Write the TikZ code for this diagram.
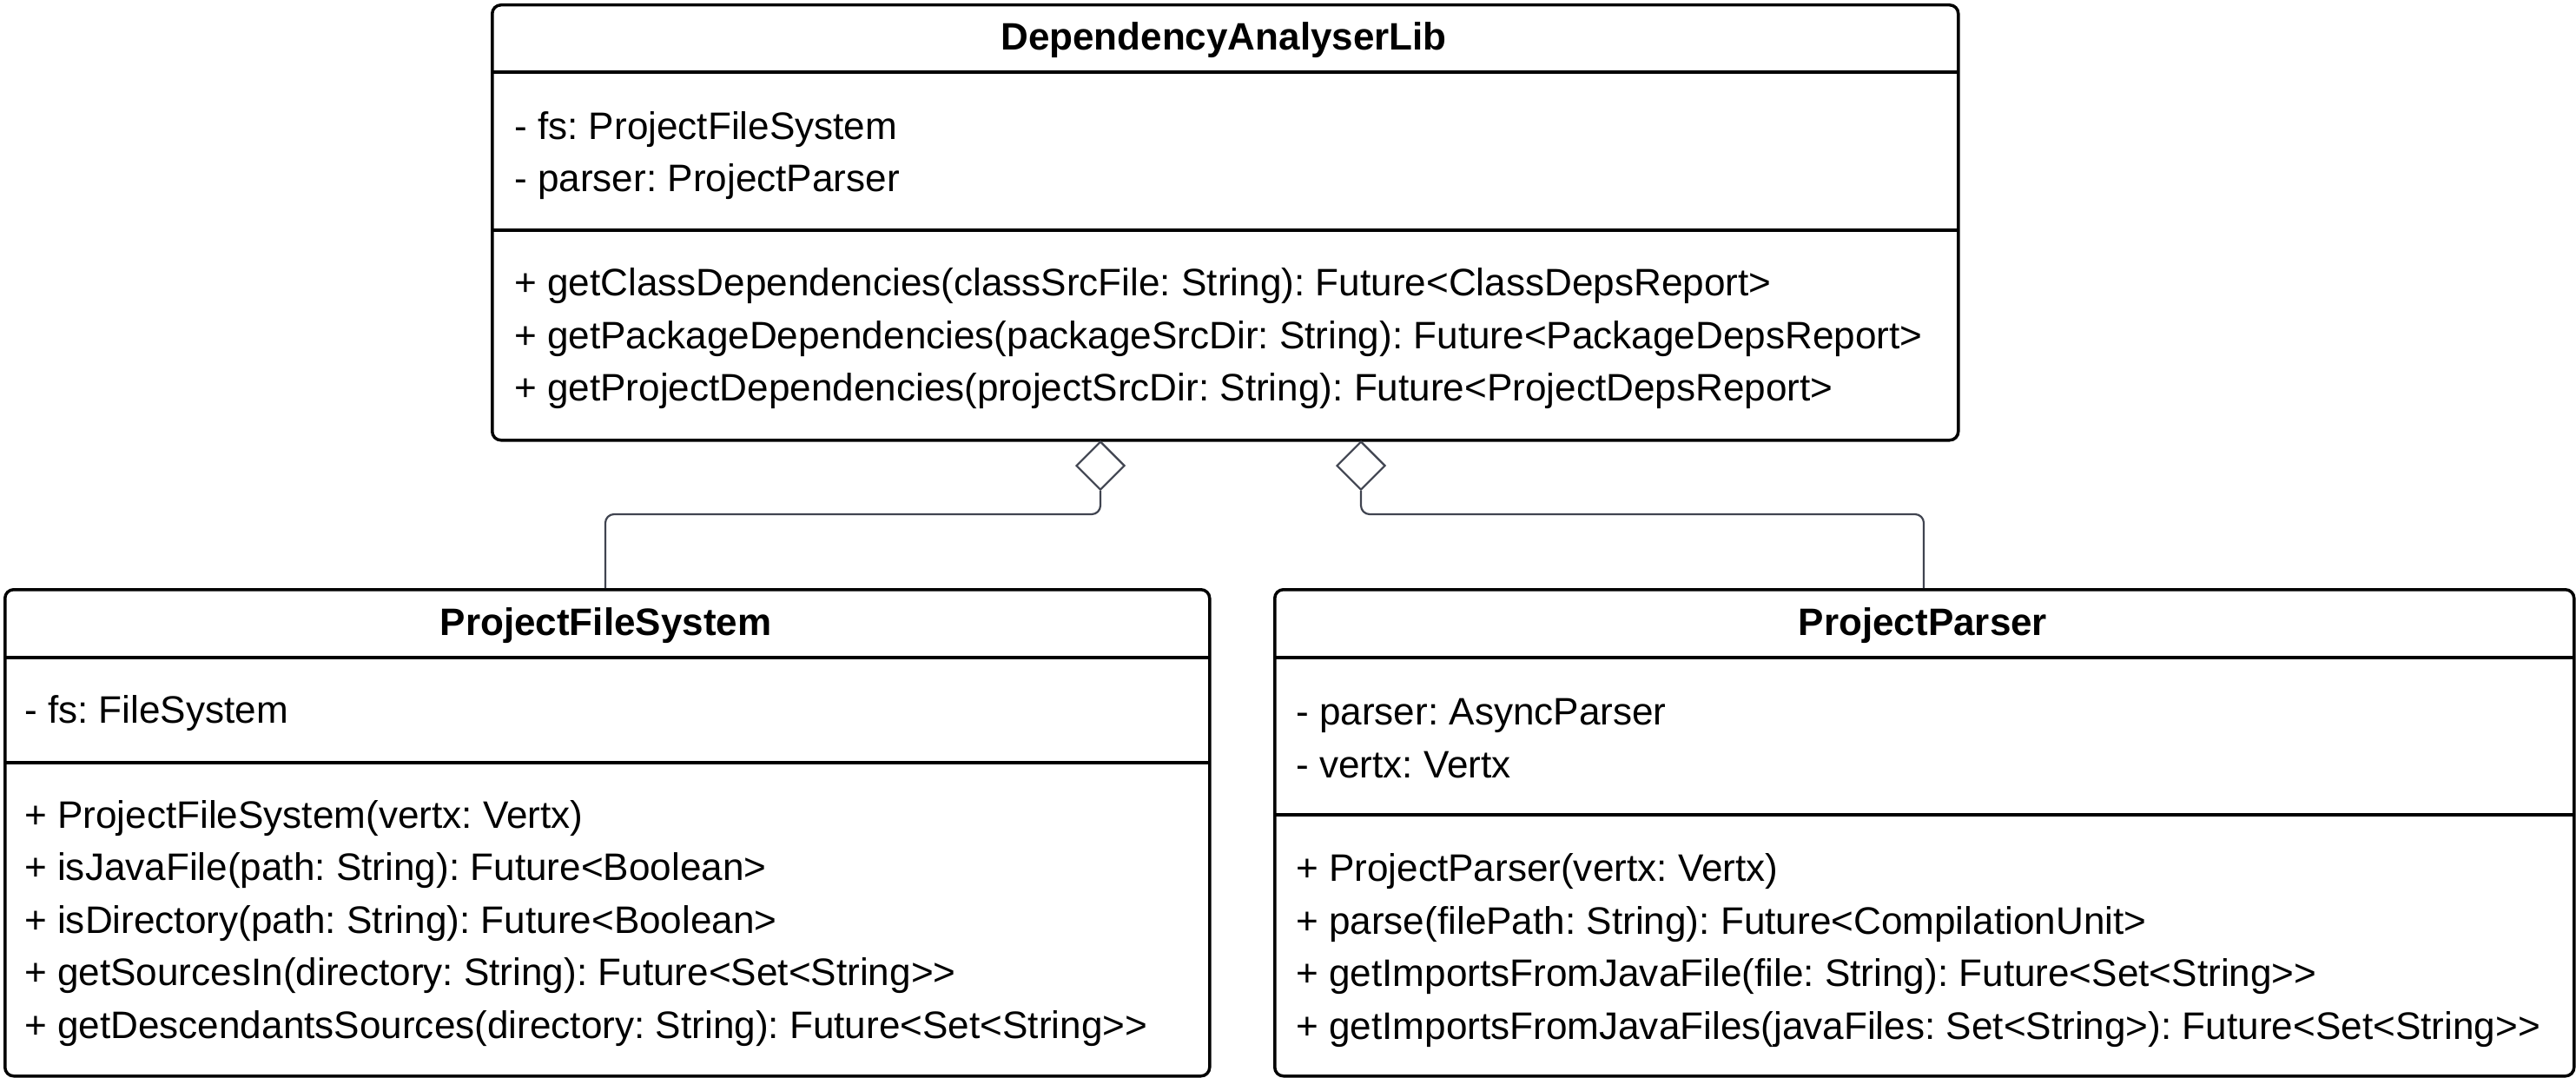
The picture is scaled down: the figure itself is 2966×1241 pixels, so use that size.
\documentclass[tikz,border=0pt]{standalone}
\usepackage{fontspec}
\setmainfont{Liberation Sans}
\frenchspacing
\usetikzlibrary{shapes.geometric}
\definecolor{connc}{RGB}{64,68,80}
\tikzset{
  classbox/.style={draw=black, line width=3.5pt, rounded corners=10pt, inner sep=0pt, anchor=north west},
  sepline/.style={draw=black, line width=3.5pt},
  ctitle/.style={font=\bfseries\fontsize{44}{60.5}\selectfont, anchor=center, inner sep=0pt},
  member/.style={font=\fontsize{44.1}{60.5}\selectfont, anchor=west, align=left, inner sep=0pt},
  conn/.style={draw=connc, line width=2.2pt, rounded corners=10pt},
  aggd/.style={diamond, draw=connc, line width=2.2pt, fill=white, aspect=1, minimum width=56pt, minimum height=56pt, inner sep=0pt}
}
\begin{document}
\begin{tikzpicture}[x=1pt,y=-1pt]
\useasboundingbox (0,0) rectangle (2966,1241);
\fill[white] (0,0) rectangle (2966,1241);

% DependencyAnalyserLib
\node[classbox, minimum width=1688pt, minimum height=501pt] (dal) at (565,4) {};
\draw[sepline] (565,83) coordinate (dals1a) -- (2253,83) coordinate (dals1b);
\draw[sepline] (565,265) coordinate (dals2a) -- (2253,265) coordinate (dals2b);
\node[ctitle] (daltitle) at (1409,46) {DependencyAnalyserLib};
\node[member] (dalattr) at (592,179) {- fs: ProjectFileSystem\\- parser: ProjectParser};
\node[member] (dalmeth) at (592,390) {+ getClassDependencies(classSrcFile: String): Future<ClassDepsReport>\\+ getPackageDependencies(packageSrcDir: String): Future<PackageDepsReport>\\+ getProjectDependencies(projectSrcDir: String): Future<ProjectDepsReport>};

% ProjectFileSystem
\node[classbox, minimum width=1387pt, minimum height=560pt] (pfs) at (4,677) {};
\draw[sepline] (4,757) coordinate (pfss1a) -- (1391,757) coordinate (pfss1b);
\draw[sepline] (4,878) coordinate (pfss2a) -- (1391,878) coordinate (pfss2b);
\node[ctitle] (pfstitle) at (697.5,720) {ProjectFileSystem};
\node[member] (pfsattr) at (28,821) {- fs: FileSystem};
\node[member] (pfsmeth) at (28,1063) {+ ProjectFileSystem(vertx: Vertx)\\+ isJavaFile(path: String): Future<Boolean>\\+ isDirectory(path: String): Future<Boolean>\\+ getSourcesIn(directory: String): Future<Set<String>{}>\\+ getDescendantsSources(directory: String): Future<Set<String>{}>};

% ProjectParser
\node[classbox, minimum width=1496pt, minimum height=560pt] (pp) at (1466,677) {};
\draw[sepline] (1466,757) coordinate (pps1a) -- (2962,757) coordinate (pps1b);
\draw[sepline] (1466,938) coordinate (pps2a) -- (2962,938) coordinate (pps2b);
\node[ctitle] (pptitle) at (2214,720) {ProjectParser};
\node[member] (ppattr) at (1492,850) {- parser: AsyncParser\\- vertx: Vertx};
\node[member] (ppmeth) at (1492,1094) {+ ProjectParser(vertx: Vertx)\\+ parse(filePath: String): Future<CompilationUnit>\\+ getImportsFromJavaFile(file: String): Future<Set<String>{}>\\+ getImportsFromJavaFiles(javaFiles: Set<String>): Future<Set<String>{}>};

% aggregations
\node[aggd, anchor=north] (d1) at (1267,507) {};
\node[aggd, anchor=north] (d2) at (1567,507) {};
\coordinate (pfsin) at (697,677);
\coordinate (ppin) at (2215,677);
\coordinate (c1) at (697,592);
\coordinate (c2) at (2215,592);
\draw[conn] (d1.south) |- (c1) -- (pfsin);
\draw[conn] (d2.south) |- (c2) -- (ppin);
\end{tikzpicture}
\end{document}
